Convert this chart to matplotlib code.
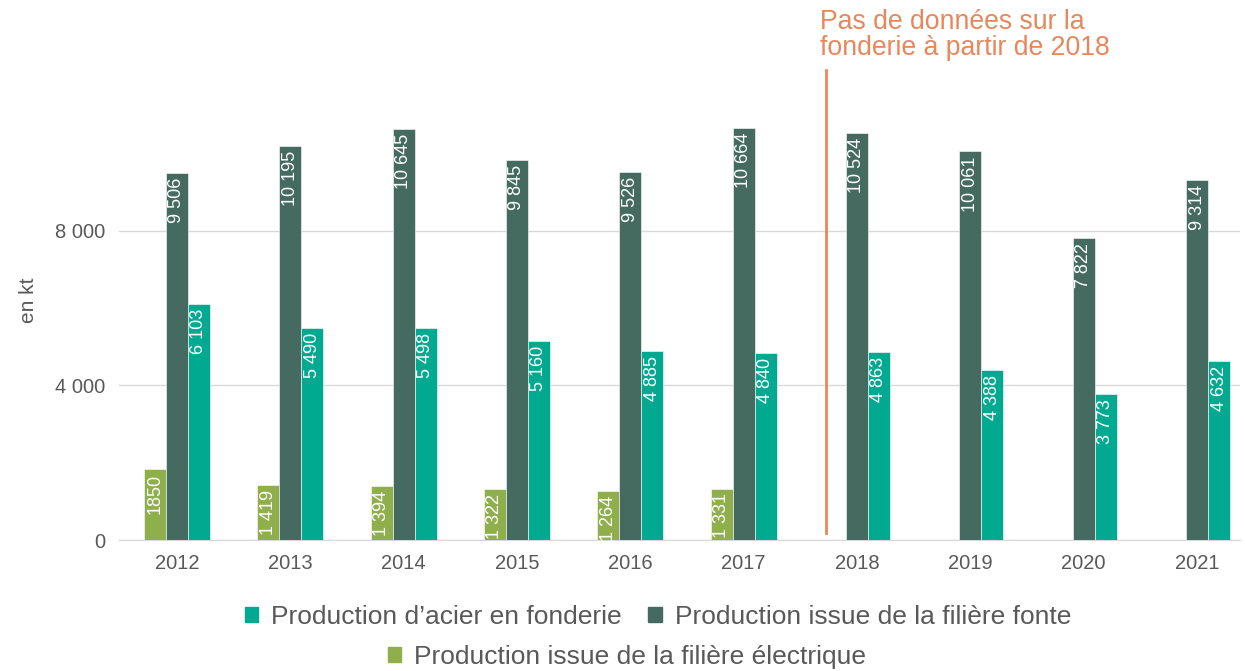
import numpy as np
import matplotlib.pyplot as plt
from matplotlib.patches import Patch

years = ['2012', '2013', '2014', '2015', '2016', '2017', '2018', '2019', '2020', '2021']
electrique = [1850, 1419, 1394, 1322, 1264, 1331, None, None, None, None]
electrique_labels = ['1850', '1 419', '1 394', '1 322', '1 264', '1 331']
fonte = [9506, 10195, 10645, 9845, 9526, 10664, 10524, 10061, 7822, 9314]
acier = [6103, 5490, 5498, 5160, 4885, 4840, 4863, 4388, 3773, 4632]

c_elec = '#8fae4c'
c_fonte = '#456a60'
c_acier = '#00a98f'
c_note = '#e8875c'
grey = '#595959'

plt.rcParams['font.family'] = ['Liberation Sans', 'DejaVu Sans']

fig = plt.figure(figsize=(12.45, 6.71), dpi=100)
ax = fig.add_axes([0.0956, 0.1952, 0.900, 0.714])

x = np.arange(len(years))
w = 0.194

def fmt(v):
    return '{:,}'.format(v).replace(',', ' ')

# electric only up to 2017
ex = [i for i, v in enumerate(electrique) if v is not None]
ev = [electrique[i] for i in ex]
b1 = ax.bar(np.array(ex) - w, ev, w, color=c_elec, edgecolor='white', linewidth=0.4, zorder=3)
b2 = ax.bar(x, fonte, w, color=c_fonte, edgecolor='white', linewidth=0.4, zorder=3)
b3 = ax.bar(x + w, acier, w, color=c_acier, edgecolor='white', linewidth=0.4, zorder=3)

def label(bars, texts):
    for r, t in zip(bars, texts):
        ax.annotate(t, (r.get_x() + r.get_width() / 2, r.get_height()),
                    xytext=(0, -3.5), textcoords='offset points',
                    rotation=90, ha='center', va='top', color='white',
                    fontsize=13, zorder=4)

label(b1, electrique_labels)
label(b2, [fmt(v) for v in fonte])
label(b3, [fmt(v) for v in acier])

ax.set_xlim(-0.51, 9.375)
ax.set_ylim(0, 12400)
ax.set_xticks(x)
ax.set_xticklabels(years, fontsize=14.5, color=grey)
ax.set_yticks([0, 4000, 8000])
ax.set_yticklabels(['0', '4 000', '8 000'], fontsize=14.5, color=grey)
ax.tick_params(length=0, pad=10)
ax.grid(axis='y', color='#d9d9d9', linewidth=1, zorder=0)
for s in ['top', 'right', 'left']:
    ax.spines[s].set_visible(False)
ax.spines['bottom'].set_color('#d9d9d9')
ax.set_ylabel('en kt', fontsize=15, color=grey, labelpad=12)

# note about missing data
ax.plot([5.73, 5.73], [180, 12170], color=c_note, linewidth=2, zorder=3)
fig.text(820 / 1245, 1 - 9 / 671, 'Pas de données sur la\nfonderie à partir de 2018',
         ha='left', va='top', fontsize=19.2, color=c_note, linespacing=1.0)

leg1 = fig.legend(handles=[Patch(color=c_acier, label="Production d\u2019acier en fonderie"),
                           Patch(color=c_fonte, label='Production issue de la filière fonte')],
                  loc='center', bbox_to_anchor=(658 / 1245, 1 - 617 / 671), ncol=2, frameon=False,
                  fontsize=19, handlelength=0.5, handleheight=0.5, handletextpad=0.5,
                  columnspacing=1.0, labelcolor=grey)
fig.legend(handles=[Patch(color=c_elec, label='Production issue de la filière électrique')],
           loc='center', bbox_to_anchor=(627 / 1245, 1 - 657 / 671), frameon=False,
           fontsize=19, handlelength=0.5, handleheight=0.5, handletextpad=0.5,
           labelcolor=grey)

fig.savefig('out.png', dpi=100)
